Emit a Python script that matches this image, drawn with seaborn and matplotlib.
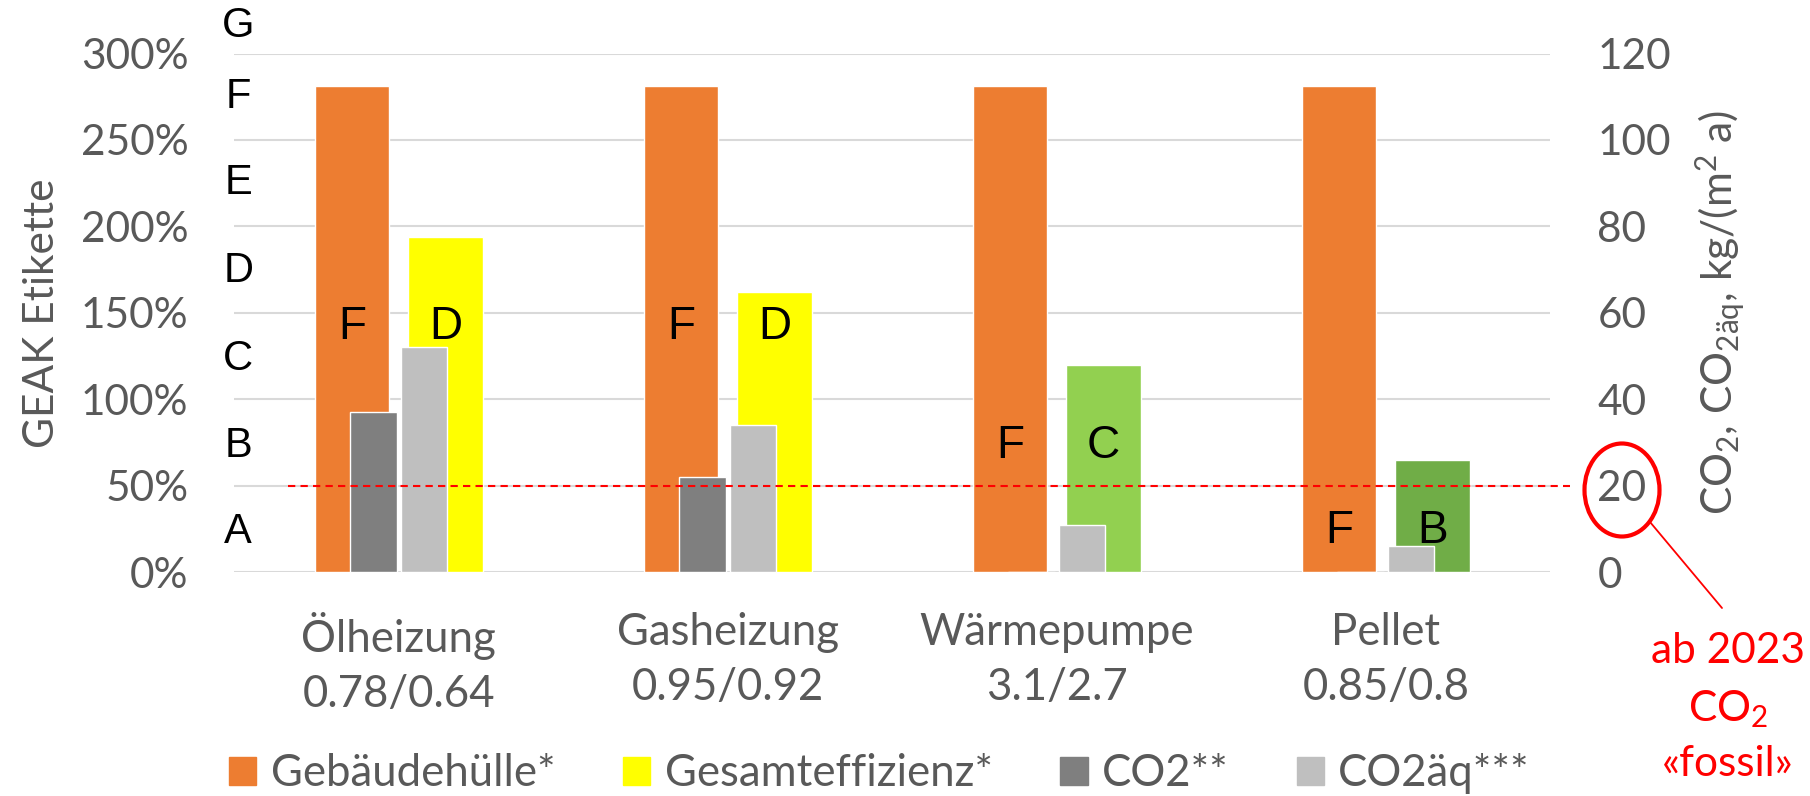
import matplotlib
matplotlib.use('Agg')
import matplotlib.pyplot as plt
from matplotlib.patches import Patch, Ellipse
from matplotlib.lines import Line2D
from matplotlib.ticker import FuncFormatter
import pandas as pd
import seaborn as sns

# Daten
systeme = ['Ölheizung', 'Gasheizung', 'Wärmepumpe', 'Pellet']
kennzahlen = ['0.78/0.64', '0.95/0.92', '3.1/2.7', '0.85/0.8']
gebaeudehuelle = [281, 281, 281, 281]      # % (linke Achse)
gesamteffizienz = [194, 162, 120, 65]      # % (linke Achse)
co2 = [37, 22, 0, 0]                       # kg/(m2 a) (rechte Achse)
co2aeq = [52, 34, 11, 6]                   # kg/(m2 a) (rechte Achse)
klasse_huelle = ['F', 'F', 'F', 'F']
klasse_gesamt = ['D', 'D', 'C', 'B']
klasse_y = [142, 142, 73, 24]              # Höhe der Klassenbuchstaben in %
etiketten = ['A', 'B', 'C', 'D', 'E', 'F', 'G']
etiketten_y = [23, 73, 123, 174, 225, 275, 316]
grenzwert = 20                             # kg/(m2 a), ab 2023

ORANGE = '#ED7D31'
GESAMT_FARBEN = ['#FFFF00', '#FFFF00', '#92D050', '#70AD47']
DUNKELGRAU = '#7F7F7F'
HELLGRAU = '#BFBFBF'
TEXTGRAU = '#595959'

sns.set_style('white')
plt.rcParams['font.family'] = ['Lato', 'DejaVu Sans']
plt.rcParams['mathtext.fontset'] = 'custom'
plt.rcParams['mathtext.rm'] = 'Lato'
plt.rcParams['mathtext.it'] = 'Lato'
FS = 30.5
FS_KAT = 31.5

df_links = pd.DataFrame({
    'System': systeme * 2,
    'Serie': ['Gebäudehülle*'] * 4 + ['Gesamteffizienz*'] * 4,
    'Wert': gebaeudehuelle + gesamteffizienz,
})
df_rechts = pd.DataFrame({
    'System': systeme * 2,
    'Serie': ['CO2**'] * 4 + ['CO2äq***'] * 4,
    'Wert': co2 + co2aeq,
})

fig = plt.figure(figsize=(18.1, 7.96), dpi=100)
ax = fig.add_axes([0.1294, 0.2813, 0.7271, 0.6514])

sns.barplot(data=df_links, x='System', y='Wert', hue='Serie', order=systeme,
            palette=[ORANGE, GESAMT_FARBEN[0]], width=0.569, gap=0.207,
            saturation=1, errorbar=None, legend=False, ax=ax, zorder=2)
for patch, farbe in zip(ax.containers[1], GESAMT_FARBEN):
    patch.set_facecolor(farbe)

ax.set_ylim(0, 300)
ax.set_yticks(range(0, 301, 50))
ax.yaxis.set_major_formatter(FuncFormatter(lambda v, _: f'{v:.0f}%'))
ax.grid(axis='y', color='#D9D9D9', lw=1.5, zorder=0)
ax.grid(axis='x', visible=False)
ax.set_axisbelow(True)
ax.set_xlabel('')
ax.set_ylabel('GEAK Etikette', fontsize=FS, color=TEXTGRAU, labelpad=14)
ax.set_xticks(range(len(systeme)))
ax.set_xticklabels([f'{s}\n{k}' for s, k in zip(systeme, kennzahlen)], linespacing=1.4)
ax.tick_params(axis='x', length=0, pad=29, labelsize=FS_KAT, labelcolor=TEXTGRAU)
ax.tick_params(axis='y', length=0, pad=33, labelsize=FS, labelcolor=TEXTGRAU)
for s in ax.spines.values():
    s.set_visible(False)

ax2 = ax.twinx()
sns.barplot(data=df_rechts, x='System', y='Wert', hue='Serie', order=systeme,
            palette=[DUNKELGRAU, HELLGRAU], width=0.307, gap=0.087,
            saturation=1, errorbar=None, legend=False, ax=ax2, zorder=3)
ax2.set_ylim(0, 120)
ax2.set_yticks(range(0, 121, 20))
ax2.xaxis.set_visible(False)
ax2.grid(False)
ax2.set_ylabel(r'CO$_2$, CO$_{\mathregular{2äq}}$, kg/(m$^2$ a)', fontsize=FS,
               color=TEXTGRAU, labelpad=16)
ax2.tick_params(axis='y', length=0, pad=34, labelsize=FS, labelcolor=TEXTGRAU)
for s in ax2.spines.values():
    s.set_visible(False)

# Grenzwert-Linie
ax2.axhline(grenzwert, xmin=0.041, xmax=1.015, color='red', lw=1.5,
            ls=(0, (3.5, 2.5)), zorder=5, clip_on=False)

# Klassen in den Balken
for cont, klassen in zip(ax.containers, [klasse_huelle, klasse_gesamt]):
    for patch, k, y in zip(cont, klassen, klasse_y):
        ax2.text(patch.get_x() + patch.get_width() / 2, y, k, transform=ax.transData,
                 ha='center', va='center', fontsize=33, color='black',
                 family='Liberation Sans', zorder=6)

# GEAK-Klassen am linken Rand
for k, y in zip(etiketten, etiketten_y):
    ax.text(0.003, y, k, transform=ax.get_yaxis_transform(), ha='center', va='center',
            fontsize=30, color='black', family='Liberation Sans', clip_on=False)

# Legende
handles = [Patch(color=c) for c in [ORANGE, GESAMT_FARBEN[0], DUNKELGRAU, HELLGRAU]]
labels = ['Gebäudehülle*', 'Gesamteffizienz*', 'CO2**', 'CO2äq***']
fig.legend(handles, labels, loc='center left', bbox_to_anchor=(229 / 1810, 1 - 774 / 796),
           ncol=4, frameon=False, fontsize=FS_KAT, labelcolor=TEXTGRAU,
           handlelength=0.62, handleheight=0.62, handletextpad=0.33, columnspacing=1.55,
           borderpad=0, borderaxespad=0)

# Markierung 20 kg
fig.add_artist(Ellipse((1622 / 1810, 1 - 490 / 796), 75 / 1810, 93 / 796,
                       transform=fig.transFigure, fill=False, ec='red', lw=3))
fig.add_artist(Line2D([1650 / 1810, 1722 / 1810], [1 - 522 / 796, 1 - 608 / 796],
                      transform=fig.transFigure, color='red', lw=1.3))
for txt, y in zip(['ab 2023', r'CO$_2$', '«fossil»'], [663, 721, 776]):
    fig.text(1728 / 1810, 1 - y / 796, txt, ha='center', va='baseline',
             fontsize=FS, color='red')

fig.savefig('out.png', dpi=100)
